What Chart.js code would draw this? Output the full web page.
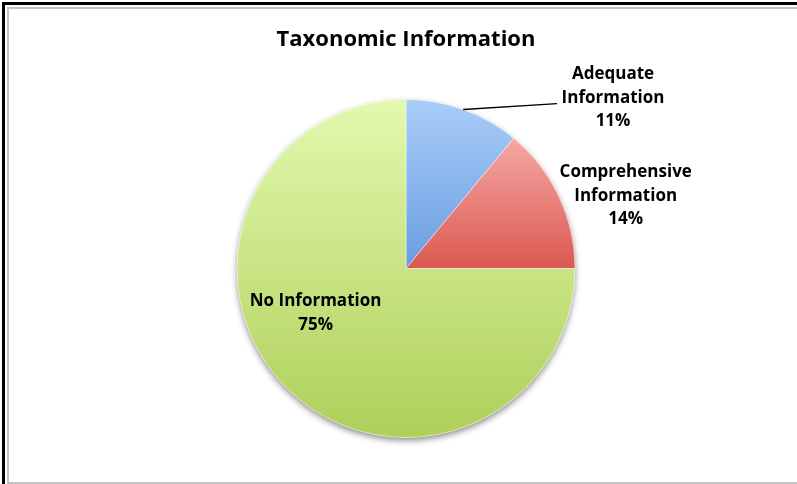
<!DOCTYPE html>
<html>
<head>
<meta charset="utf-8">
<script src="https://cdn.jsdelivr.net/npm/chart.js@4.4.0/dist/chart.umd.min.js"></script>
<style>
  html, body { margin: 0; padding: 0; background: #fff; }
  #wrap { position: relative; width: 797px; height: 484px; overflow: hidden; }
  #wrap canvas { position: absolute; left: 0; top: 0; }
  .outer { position: absolute; left: 2px; top: 2px; right: 0; bottom: 0;
           border-top: 3px solid #000; border-left: 3px solid #000; pointer-events: none; }
  .inner { position: absolute; left: 7px; top: 7px; right: 0; height: 473px;
           border-top: 2px solid #c4c4c4; border-left: 2px solid #c4c4c4;
           border-bottom: 2px solid #c4c4c4; pointer-events: none; }
</style>
</head>
<body>
<div id="wrap">
  <canvas id="pieChart" width="797" height="484"></canvas>
  <div class="outer"></div>
  <div class="inner"></div>
</div>
<script>
const categories = ['Adequate Information', 'Comprehensive Information', 'No Information'];
const labelLines = [['Adequate', 'Information'], ['Comprehensive', 'Information'], ['No Information']];
const values = [11, 14, 75];

// top / bottom colours of each slice's vertical gradient
const topColors = ['#aacdf9', '#f6a8a5', '#e2f9ae'];
const bottomColors = ['#699de0', '#db5850', '#aecf59'];

// label anchor in units of the pie radius, relative to the pie centre
const labelOffset = [[1.225, -1.01], [1.30, -0.43], [-0.535, 0.265]];

const FONT = '"Open Sans", Lato, sans-serif';

function sliceAngles(i) {
  const total = values.reduce((a, b) => a + b, 0);
  let cum = 0;
  for (let k = 0; k < i; k++) cum += values[k];
  const start = -Math.PI / 2 + 2 * Math.PI * cum / total;
  const end = start + 2 * Math.PI * values[i] / total;
  return [start, end];
}

function sliceGradient(context) {
  const chart = context.chart;
  const area = chart.chartArea;
  const i = context.dataIndex;
  if (!area || i === undefined) return topColors[i || 0];
  const cx = (area.left + area.right) / 2;
  const cy = (area.top + area.bottom) / 2;
  const r = Math.min(area.width, area.height) / 2;
  const [a0, a1] = sliceAngles(i);
  let yMin = cy, yMax = cy;
  for (let s = 0; s <= 60; s++) {
    const y = cy + r * Math.sin(a0 + (a1 - a0) * s / 60);
    yMin = Math.min(yMin, y);
    yMax = Math.max(yMax, y);
  }
  const g = chart.ctx.createLinearGradient(0, yMin, 0, yMax);
  g.addColorStop(0, topColors[i]);
  g.addColorStop(1, bottomColors[i]);
  return g;
}

// soft drop shadow under the whole pie
const pieShadow = {
  id: 'pieShadow',
  beforeDatasetsDraw(chart) {
    const arc = chart.getDatasetMeta(0).data[0];
    if (!arc) return;
    const ctx = chart.ctx;
    ctx.save();
    ctx.shadowColor = 'rgba(0,0,0,0.45)';
    ctx.shadowBlur = 6;
    ctx.shadowOffsetY = 3;
    ctx.fillStyle = '#ffffff';
    ctx.beginPath();
    ctx.arc(arc.x, arc.y, arc.outerRadius, 0, Math.PI * 2);
    ctx.fill();
    ctx.restore();
  }
};

// slice names with percentages, plus the leader line for the small slice
const sliceLabels = {
  id: 'sliceLabels',
  afterDatasetsDraw(chart) {
    const meta = chart.getDatasetMeta(0);
    const ctx = chart.ctx;
    const total = values.reduce((a, b) => a + b, 0);
    ctx.save();
    meta.data.forEach((arc, i) => {
      const r = arc.outerRadius;
      const x = arc.x + labelOffset[i][0] * r;
      const y = arc.y + labelOffset[i][1] * r;
      const lines = labelLines[i].concat([Math.round(values[i] / total * 100) + '%']);
      const lh = 23.5;
      ctx.fillStyle = '#000';
      ctx.font = 'bold 17px ' + FONT;
      ctx.textAlign = 'center';
      ctx.textBaseline = 'middle';
      lines.forEach((t, k) => {
        ctx.fillText(t, x, y + (k - (lines.length - 1) / 2) * lh);
      });
      if (i === 0) {
        const mid = (arc.startAngle + arc.endAngle) / 2;
        ctx.strokeStyle = '#000';
        ctx.lineWidth = 1.3;
        ctx.beginPath();
        ctx.moveTo(arc.x + Math.cos(mid) * r, arc.y + Math.sin(mid) * r);
        ctx.lineTo(arc.x + 0.894 * r, arc.y - 0.976 * r);
        ctx.stroke();
      }
    });
    ctx.restore();
  }
};

new Chart(document.getElementById('pieChart'), {
  type: 'pie',
  data: {
    labels: categories,
    datasets: [{
      data: values,
      backgroundColor: sliceGradient,
      borderColor: 'rgba(255,255,255,0.45)',
      borderWidth: 1
    }]
  },
  options: {
    responsive: false,
    animation: false,
    events: [],
    layout: { padding: { left: 15, right: 0, top: 0, bottom: 46 } },
    plugins: {
      legend: { display: false },
      tooltip: { enabled: false },
      title: {
        display: true,
        text: 'Taxonomic Information',
        color: '#000',
        font: { family: FONT, size: 22, weight: 'bold', lineHeight: 1.2 },
        padding: { top: 27, bottom: 45.6 }
      }
    }
  },
  plugins: [pieShadow, sliceLabels]
});
</script>
</body>
</html>
